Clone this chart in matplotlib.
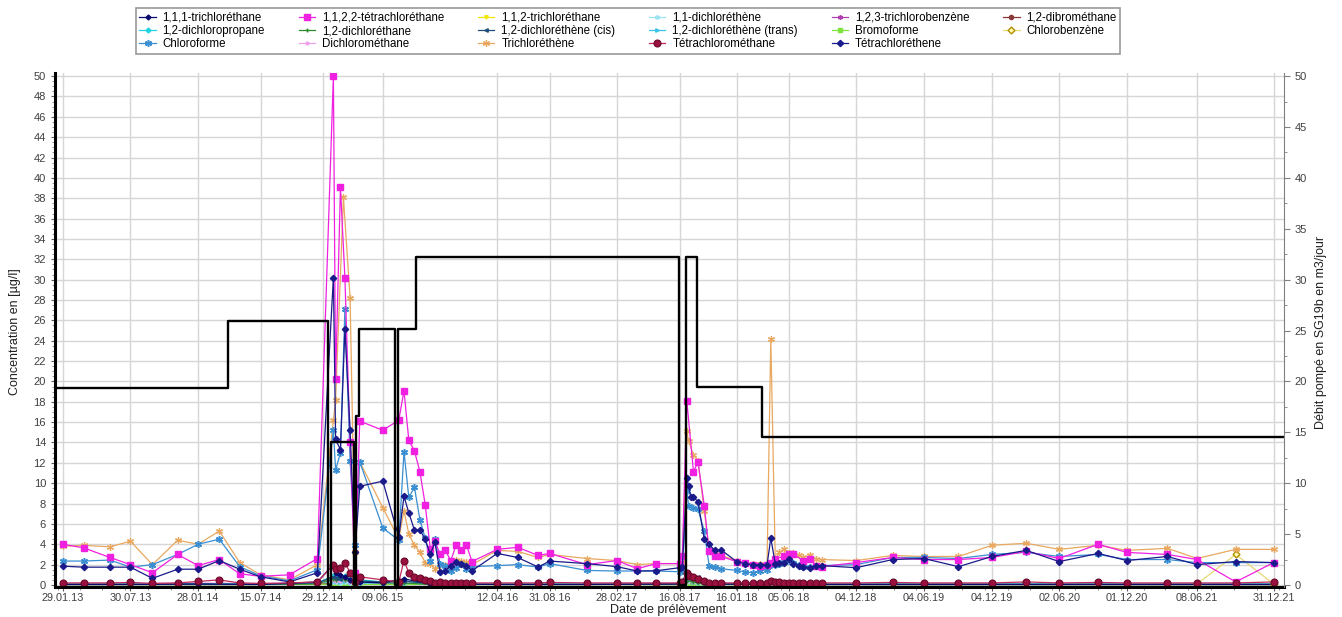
import numpy as np
import pandas as pd
import matplotlib
matplotlib.use('Agg')
import matplotlib.pyplot as plt
import matplotlib.dates as mdates
from matplotlib.ticker import MultipleLocator

plt.rcParams['font.family'] = ['Liberation Sans', 'DejaVu Sans']

nan = np.nan

# sampling dates of the main compounds
dates = ['2013-01-29', '2013-03-26', '2013-06-05', '2013-07-30', '2013-09-27', '2013-12-04',
         '2014-01-28', '2014-03-26', '2014-05-20', '2014-07-15', '2014-10-01', '2014-12-15',
         '2015-01-27', '2015-02-02', '2015-02-15', '2015-02-23', '2015-02-27', '2015-03-13',
         '2015-03-26', '2015-04-08', '2015-06-09', '2015-07-22', '2015-08-05', '2015-08-18',
         '2015-09-02', '2015-09-17', '2015-10-01', '2015-10-15', '2015-10-27', '2015-11-10',
         '2015-11-24', '2015-12-09', '2015-12-23', '2016-01-05', '2016-01-20', '2016-02-04',
         '2016-04-12', '2016-06-06', '2016-07-31', '2016-08-31', '2016-12-09', '2017-02-28',
         '2017-04-24', '2017-06-14', '2017-08-16', '2017-08-23', '2017-09-04', '2017-09-09',
         '2017-09-15', '2017-09-22', '2017-10-04', '2017-10-21', '2017-11-03', '2017-11-18',
         '2017-12-05', '2018-01-16', '2018-02-07', '2018-03-01', '2018-03-19', '2018-04-08',
         '2018-04-18', '2018-04-30', '2018-05-11', '2018-05-23', '2018-06-05', '2018-06-18',
         '2018-07-02', '2018-07-14', '2018-08-02', '2018-08-17', '2018-09-02', '2018-12-04',
         '2019-03-12', '2019-06-04', '2019-09-05', '2019-12-04', '2020-03-05', '2020-06-02',
         '2020-09-15', '2020-12-01', '2021-03-20', '2021-06-08', '2021-09-20', '2021-12-31']

tetrachlorethane = [4.0, 3.65, 2.7, 2.0, 1.2, 3.0, 1.9, 2.5, 1.1, 0.85, 1.0, 2.6,
                    50.0, 20.2, 39.1, nan, 30.2, 14.0, 1.2, 16.1, 15.2, 16.2, 19.1, 14.2,
                    13.2, 11.1, 7.9, 3.5, 4.3, 3.06, 3.4, 2.4, 3.9, 3.4, 3.95, 2.3,
                    3.5, 3.7, 2.9, 3.1, 2.0, 2.4, 1.6, 2.1, 2.1, 2.8, 18.1, nan,
                    nan, 11.1, 12.1, 7.8, 3.3, 2.8, 2.8, 2.3, 2.2, 2.0, 1.9, 2.0,
                    2.2, 2.6, nan, 2.8, 3.06, 3.0, nan, 2.4, 2.6, 1.9, 1.8, 2.2,
                    2.7, 2.5, 2.5, 2.7, 3.3, 2.6, 4.0, 3.2, 3.0, 2.5, 0.3, 2.2]

tetrachlorethene = [1.85, 1.75, 1.75, 1.75, 0.65, 1.55, 1.55, 2.4, 1.55, 0.8, 0.3, 1.2,
                    30.2, 14.3, 13.3, nan, 25.2, 15.2, 3.2, 9.7, 10.2, 4.7, 8.7, 7.1,
                    5.4, 5.4, 4.5, 3.0, 4.2, 1.3, 1.4, 1.9, 2.3, 2.1, 1.9, 1.4,
                    3.1, 2.7, 1.76, 2.35, 2.1, 1.8, 1.37, 1.4, 1.7, 1.8, 10.5, 9.7,
                    8.6, 8.6, 8.2, 4.5, 4.0, 3.4, 3.45, 2.3, 2.1, 2.0, 2.0, 2.0,
                    4.6, 2.1, 2.2, 2.2, 2.6, 2.1, 1.9, 1.8, 1.7, 1.9, 1.9, 1.7,
                    2.5, 2.6, 1.8, 2.8, 3.4, 2.3, 3.1, 2.4, 2.8, 2.0, 2.3, 2.2]

chloroforme = [2.35, 2.35, 2.45, 1.75, 2.0, 3.0, 4.0, 4.5, 1.8, 0.9, 0.4, 1.5,
               15.2, 11.3, 13.0, nan, 27.1, 12.2, 3.9, 12.1, 5.6, 4.4, 13.1, 8.6,
               9.6, 6.4, 4.6, 2.4, 4.5, 2.1, 1.9, 1.4, 1.7, 2.1, 1.6, 1.8,
               1.9, 2.0, 1.76, 2.1, 1.43, 1.37, 1.37, 1.37, 1.3, 1.5, 9.2, 7.8,
               nan, 7.6, 7.45, 5.3, 1.9, 1.76, 1.6, 1.43, 1.27, 1.2, 1.4, 1.5,
               2.0, 2.0, 2.1, 2.25, 2.4, 2.2, 2.0, 1.8, 1.8, 1.9, 1.9, 2.0,
               2.7, 2.7, 2.6, 3.0, 3.2, 2.8, 3.0, 2.5, 2.5, 2.2, 2.2, 2.2]

trichlorethene = [3.8, 3.9, 3.75, 4.3, 2.0, 4.4, 4.0, 5.3, 2.2, 1.0, 0.5, 2.0,
                  16.2, 18.2, nan, 38.1, nan, 28.2, 3.2, 12.1, 7.6, 4.5, 7.3, 5.0,
                  3.9, 3.2, 2.2, 2.1, 1.6, 2.0, 2.0, 2.2, 2.5, 2.4, 2.3, 2.0,
                  3.4, 3.3, 2.7, 3.0, 2.6, 2.4, 2.0, 2.1, 2.1, 2.3, 15.1, 14.1,
                  nan, 12.8, 12.2, 7.3, 3.4, 3.06, 2.9, 2.4, 2.2, 2.1, 2.1, 2.1,
                  24.2, 2.5, 3.2, 3.5, 3.1, 3.1, 2.9, 2.7, 2.9, 2.6, 2.5, 2.4,
                  2.9, 2.8, 2.8, 3.9, 4.1, 3.5, 3.9, 3.4, 3.6, 2.6, 3.5, 3.5]

tetrachloromethane = [0.2, 0.2, 0.2, 0.25, 0.15, 0.2, 0.35, 0.5, 0.2, 0.15, 0.2, 0.3,
                      2.0, 1.6, 1.7, nan, 2.2, 1.2, 0.3, 0.8, 0.5, 0.3, 2.4, 1.2,
                      0.8, 0.7, 0.5, 0.4, 0.2, 0.3, 0.2, 0.2, 0.2, 0.2, 0.2, 0.2,
                      0.2, 0.2, 0.2, 0.25, 0.2, 0.2, 0.2, 0.2, 0.2, 0.25, 1.2, 0.9,
                      nan, 0.8, 0.6, 0.4, 0.2, 0.2, 0.2, 0.2, 0.2, 0.2, 0.2, 0.2,
                      0.4, 0.3, 0.25, 0.2, 0.2, 0.2, 0.2, 0.2, 0.2, 0.2, 0.2, 0.2,
                      0.25, 0.2, 0.2, 0.2, 0.3, 0.2, 0.25, 0.2, 0.2, 0.2, 0.2, 0.3]

# compounds that stay close to zero
dates_minor = ['2013-01-29', '2013-07-30', '2014-01-28', '2014-07-15', '2014-12-15', '2015-01-27',
               '2015-02-02', '2015-02-15', '2015-02-27', '2015-03-13', '2015-03-26', '2015-04-08',
               '2015-06-09', '2015-08-05', '2015-10-15', '2016-04-12', '2016-12-09', '2017-08-16',
               '2017-09-04', '2017-09-22', '2017-10-04', '2017-10-21', '2017-11-03', '2018-06-05',
               '2018-12-04', '2019-12-04', '2020-12-01', '2021-06-08', '2021-12-31']
tca_111 = [0.05, 0.05, 0.1, 0.05, 0.3, 2.0, 1.2, 1.0, 0.8, 0.5, 0.2, 0.3, 0.2, 0.6, 0.1,
           0.05, 0.05, 0.1, 0.9, 0.8, 0.6, 0.3, 0.1, 0.05, 0.05, 0.05, 0.05, 0.05, 0.05]
tca_112 = [0.05, 0.05, 0.05, 0.05, 0.1, 0.3, 0.2, 0.2, 0.3, 0.2, 0.05, 0.1, 0.1, 0.1, 0.05,
           0.05, 0.05, 0.05, 0.2, 0.2, 0.1, 0.1, 0.05, 0.05, 0.05, 0.05, 0.05, 0.05, 0.05]
dce_11 = [0.1, 0.1, 0.1, 0.1, 0.2, 0.3, 0.3, 0.2, 0.3, 0.2, 0.1, 0.2, 0.15, 0.2, 0.1,
          0.1, 0.1, 0.1, 0.3, 0.3, 0.2, 0.15, 0.1, 0.1, 0.1, 0.1, 0.1, 0.1, 0.1]
tcb_123 = [0.05, 0.05, 0.05, 0.05, 0.05, 0.1, 0.1, 0.1, 0.1, 0.05, 0.05, 0.05, 0.05, 0.05, 0.05,
           0.05, 0.05, 0.05, 0.1, 0.1, 0.05, 0.05, 0.05, 0.05, 0.05, 0.05, 0.05, 0.05, 0.05]
dbm_12 = [0.1, 0.1, 0.1, 0.1, 0.1, 0.15, 0.15, 0.1, 0.15, 0.1, 0.1, 0.1, 0.1, 0.1, 0.1,
          0.1, 0.1, 0.1, 0.15, 0.1, 0.1, 0.1, 0.1, 0.1, 0.1, 0.1, 0.1, 0.1, 0.1]
dcp_12 = [0.1, 0.1, 0.1, 0.1, 0.2, 0.9, 0.8, 0.7, 0.9, 0.6, 0.2, 0.5, 0.3, 0.4, 0.1,
          0.1, 0.1, 0.1, 0.6, 0.5, 0.4, 0.2, 0.1, 0.1, 0.1, 0.1, 0.1, 0.1, 0.1]
dca_12 = [0.05, 0.05, 0.05, 0.05, 0.1, 0.6, 0.5, 0.7, 0.5, 0.4, 0.1, 0.3, 0.2, 0.2, 0.05,
          0.05, 0.05, 0.05, 0.4, 0.3, 0.2, 0.1, 0.05, 0.05, 0.05, 0.05, 0.05, 0.05, 0.05]
dce_cis = [0.05, 0.05, 0.05, 0.05, 0.2, 0.8, 0.7, 0.6, 0.8, 0.5, 0.2, 0.4, 0.3, 0.4, 0.1,
           0.05, 0.05, 0.1, 1.1, 0.9, 0.8, 0.3, 0.1, 0.05, 0.05, 0.05, 0.05, 0.05, 0.05]
dce_trans = [0.1, 0.1, 0.1, 0.1, 0.2, 0.4, 0.4, 0.3, 0.4, 0.3, 0.1, 0.2, 0.2, 0.2, 0.1,
             0.1, 0.1, 0.1, 0.4, 0.3, 0.3, 0.2, 0.1, 0.1, 0.1, 0.1, 0.1, 0.1, 0.1]
bromoforme = [0.05, 0.05, 0.05, 0.05, 0.05, 0.1, 0.1, 0.05, 0.1, 0.05, 0.05, 0.05, 0.05, 0.05, 0.05,
              0.05, 0.05, 0.05, 0.1, 0.05, 0.05, 0.05, 0.05, 0.05, 0.05, 0.05, 0.05, 0.05, 0.05]
dichloromethane = [0.15, 0.15, 0.2, 0.15, 0.2, 0.5, 0.4, 0.4, 0.5, 0.3, 0.2, 0.3, 0.2, 0.3, 0.15,
                   0.15, 0.15, 0.15, 0.4, 0.3, 0.3, 0.2, 0.15, 0.15, 0.15, 0.15, 0.15, 0.15, 0.15]

dates_chlorobenzene = ['2021-06-08', '2021-09-20', '2021-12-31']
chlorobenzene = [0.1, 3.0, 0.1]

# pumped flow (right axis)
pump_dates = ['2013-01-08', '2014-04-18', '2015-01-13', '2015-01-20', '2015-03-24', '2015-03-29',
              '2015-04-05', '2015-07-11', '2015-07-19', '2015-09-05', '2017-08-14', '2017-09-02',
              '2017-10-01', '2018-03-26', '2022-01-28']
pump_rate = [19.4, 25.9, 0, 14.0, 0, 16.6, 25.2, 0, 25.2, 32.2, 0, 32.2, 19.5, 14.5, 14.5]

tick_dates = ['2013-01-29', '2013-07-30', '2014-01-28', '2014-07-15', '2014-12-29', '2015-06-09',
              '2016-04-12', '2016-08-31', '2017-02-28', '2017-08-16', '2018-01-16', '2018-06-05',
              '2018-12-04', '2019-06-04', '2019-12-04', '2020-06-02', '2020-12-01', '2021-06-08',
              '2021-12-31']

fig = plt.figure(figsize=(13.42, 6.17), dpi=100)
ax = fig.add_axes([0.041, 0.0486, 0.9158, 0.833])


def draw(d, v, label, color, marker, ms, **kw):
    d = pd.to_datetime(d)
    v = np.array(v, dtype=float)
    m = ~np.isnan(v)
    line, = ax.plot(d[m], v[m], color=color, marker=marker, markersize=ms,
                    linewidth=0.9, label=label, **kw)
    return line


h = {}
h['1,1,2-trichloréthane'] = draw(dates_minor, tca_112, '1,1,2-trichloréthane', '#f2e600', 'v', 2.5)
h['1,2,3-trichlorobenzène'] = draw(dates_minor, tcb_123, '1,2,3-trichlorobenzène', '#b040b0', (6, 2, 0), 3.5)
h['1,2-dibrométhane'] = draw(dates_minor, dbm_12, '1,2-dibrométhane', '#8b3a3a', 'o', 3)
h['Bromoforme'] = draw(dates_minor, bromoforme, 'Bromoforme', '#7ee33a', 's', 2.5)
h['1,1-dichloréthène'] = draw(dates_minor, dce_11, '1,1-dichloréthène', '#9fe4f2', (6, 2, 0), 3.5)
h['1,2-dichloréthène (trans)'] = draw(dates_minor, dce_trans, '1,2-dichloréthène (trans)', '#38c4e8', '>', 2.5)
h['Dichlorométhane'] = draw(dates_minor, dichloromethane, 'Dichlorométhane', '#f0a0ec', 'o', 2)
h['1,2-dichloropropane'] = draw(dates_minor, dcp_12, '1,2-dichloropropane', '#22d3e0', 'D', 2.5)
h['1,2-dichloréthane'] = draw(dates_minor, dca_12, '1,2-dichloréthane', '#2e8b2e', '+', 3.5)
h['1,2-dichloréthène (cis)'] = draw(dates_minor, dce_cis, '1,2-dichloréthène (cis)', '#1f4e7a', '<', 2.5)
h['1,1,1-trichloréthane'] = draw(dates_minor, tca_111, '1,1,1-trichloréthane', '#0a0a6e', 'D', 2.5)
h['Chlorobenzène'] = draw(dates_chlorobenzene, chlorobenzene, 'Chlorobenzène', '#e8d870', 'D', 3.5,
                          markerfacecolor='#fff8b0', markeredgecolor='#b09000')
h['Trichloréthène'] = draw(dates, trichlorethene, 'Trichloréthène', '#e8a860', (6, 2, 0), 5,
                           markeredgewidth=0.9)
h['Chloroforme'] = draw(dates, chloroforme, 'Chloroforme', '#3a8ed2', (6, 2, 0), 5,
                        markeredgewidth=1.1)
h['1,1,2,2-tétrachloréthane'] = draw(dates, tetrachlorethane, '1,1,2,2-tétrachloréthane', '#f020e0', 's', 4.2)
h['Tétrachloréthene'] = draw(dates, tetrachlorethene, 'Tétrachloréthene', '#1a1a8a', 'D', 3.2)
h['Tétrachlorométhane'] = draw(dates, tetrachloromethane, 'Tétrachlorométhane', '#c02a5a', 'o', 5,
                               markerfacecolor='#9a1040', markeredgecolor='#6a0828', markeredgewidth=0.8)

ax.set_xlim(pd.Timestamp('2013-01-08'), pd.Timestamp('2022-01-28'))
ax.set_ylim(-0.2, 50.3)
ax.yaxis.set_major_locator(MultipleLocator(2))
ax.yaxis.set_minor_locator(MultipleLocator(0.5))
ax.set_xticks(pd.to_datetime(tick_dates))
ax.xaxis.set_major_formatter(mdates.DateFormatter('%d.%m.%y'))
ax.xaxis.set_minor_locator(mdates.MonthLocator(bymonth=[1, 3, 5, 7, 9, 11], bymonthday=15))
ax.grid(True, which='major', color='#d6d6d6', linewidth=1.0)
ax.set_axisbelow(True)
ax.tick_params(axis='both', which='major', labelsize=8, labelcolor='#404040', color='#606060', length=3)
ax.tick_params(axis='x', which='major', labelsize=7.8, pad=1.5)
ax.tick_params(axis='both', which='minor', color='#808080', length=2)
ax.spines['top'].set_visible(False)
ax.spines['right'].set_visible(False)
ax.spines['left'].set_linewidth(2.2)
ax.spines['bottom'].set_linewidth(2.2)

ax2 = ax.twinx()
ax2.plot(pd.to_datetime(pump_dates), pump_rate, color='black', linewidth=1.7, drawstyle='steps-post')
ax2.set_ylim(-0.2, 50.3)
ax2.yaxis.set_major_locator(MultipleLocator(5))
ax2.yaxis.set_minor_locator(MultipleLocator(2.5))
ax2.tick_params(axis='y', which='major', labelsize=8, labelcolor='#404040', color='#808080', length=4)
ax2.tick_params(axis='y', which='minor', color='#808080', length=2)
for s in ['top', 'left', 'bottom']:
    ax2.spines[s].set_visible(False)
ax2.spines['right'].set_color('#808080')

narrow = ['Liberation Sans Narrow', 'Liberation Sans', 'DejaVu Sans']
fig.text(0.011, 0.462, 'Concentration en [µg/l]', rotation=90, va='center', ha='center',
         fontsize=9, family=narrow, color='#202020')
fig.text(0.984, 0.462, 'Débit pompé en SG19b en m3/jour', rotation=90, va='center', ha='center',
         fontsize=9, family=narrow, color='#202020')
fig.text(0.498, 0.002, 'Date de prélèvement', va='bottom', ha='center', fontsize=9, color='#202020')

row_order = ['1,1,1-trichloréthane', '1,1,2,2-tétrachloréthane', '1,1,2-trichloréthane',
             '1,1-dichloréthène', '1,2,3-trichlorobenzène', '1,2-dibrométhane',
             '1,2-dichloropropane', '1,2-dichloréthane', '1,2-dichloréthène (cis)',
             '1,2-dichloréthène (trans)', 'Bromoforme', 'Chlorobenzène',
             'Chloroforme', 'Dichlorométhane', 'Trichloréthène', 'Tétrachlorométhane',
             'Tétrachloréthene']
col_order = []
for c in range(6):
    for r in range(3):
        i = r * 6 + c
        if i < len(row_order):
            col_order.append(row_order[i])

leg = fig.legend([h[k] for k in col_order], col_order, ncol=6, loc='upper center',
                 bbox_to_anchor=(0.468, 0.99), fontsize=8.3, frameon=True, fancybox=False,
                 edgecolor='#808080', borderpad=0.3, labelspacing=0.1, handlelength=1.4,
                 handletextpad=0.6, columnspacing=2.95, borderaxespad=0.2)
leg.get_frame().set_linewidth(1.2)

fig.savefig('out.png', dpi=100)
